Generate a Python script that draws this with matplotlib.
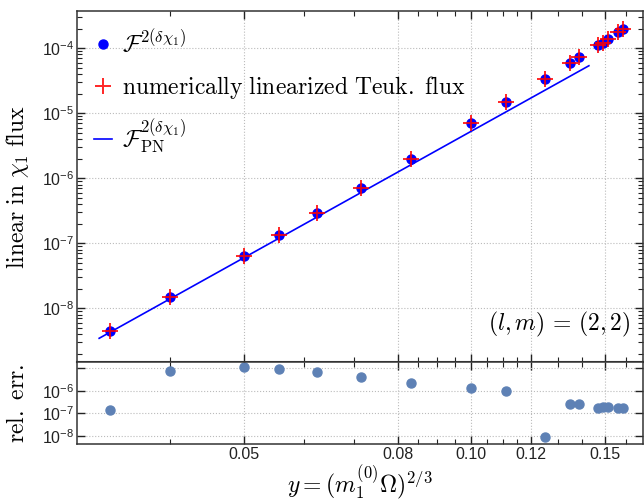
import matplotlib
matplotlib.use("Agg")
import matplotlib.pyplot as plt
from matplotlib.font_manager import FontProperties

plt.rcParams['font.family'] = ['Liberation Sans', 'DejaVu Sans']

# data
y_vals = [0.0333, 0.04, 0.05, 0.0556, 0.0625, 0.0714, 0.0833, 0.10, 0.111, 0.125,
          0.135, 0.1389, 0.147, 0.1493, 0.1515, 0.1563, 0.1587]
flux = [4.5e-9, 1.49e-8, 6.4e-8, 1.33e-7, 2.88e-7, 7.0e-7, 1.98e-6, 7.0e-6, 1.47e-5, 3.35e-5,
        6.0e-5, 7.3e-5, 1.11e-4, 1.22e-4, 1.39e-4, 1.76e-4, 1.96e-4]
teuk_flux = [4.5e-9, 1.49e-8, 6.4e-8, 1.33e-7, 2.88e-7, 7.0e-7, 1.98e-6, 7.0e-6, 1.47e-5, 3.35e-5,
             6.0e-5, 7.3e-5, 1.11e-4, 1.22e-4, 1.39e-4, 1.76e-4, 1.96e-4]
rel_err = [1.4e-7, 7.8e-6, 1.1e-5, 8.7e-6, 6.4e-6, 4.1e-6, 2.3e-6, 1.3e-6, 1.0e-6, 9.3e-9,
           2.6e-7, 2.6e-7, 1.65e-7, 1.9e-7, 1.9e-7, 1.75e-7, 1.75e-7]
pn_y = [0.0322, 0.143]
pn_flux = [3.47e-9, 5.36e-5]

xtick_vals = [0.05, 0.08, 0.10, 0.12, 0.15]
xtick_labels = ['0.05', '0.08', '0.10', '0.12', '0.15']
xminor_vals = [0.04, 0.06, 0.07, 0.085, 0.09, 0.095, 0.105, 0.11, 0.115, 0.13, 0.14, 0.16]

cm = FontProperties(math_fontfamily='cm', size=17)

fig = plt.figure(figsize=(6.44, 5.04), dpi=100)
gs = fig.add_gridspec(2, 1, height_ratios=[351, 82], hspace=0,
                      left=77/644, right=643/644, top=1-11/504, bottom=1-444/504)
ax = fig.add_subplot(gs[0])
ax2 = fig.add_subplot(gs[1], sharex=ax)

ax.plot(pn_y, pn_flux, color='blue', lw=1.2, label=r'$\mathcal{F}^{2(\delta\chi_1)}_{\rm PN}$', zorder=2)
ax.plot(y_vals, flux, 'o', color='blue', ms=6.5, label=r'$\mathcal{F}^{2(\delta\chi_1)}$', zorder=3)
ax.plot(y_vals, teuk_flux, '+', color='red', alpha=0.85, ms=12, mew=1.4,
        label=r'$\mathrm{numerically\ linearized\ Teuk.\ flux}$', zorder=4)

ax.set_xscale('log')
ax.set_yscale('log')
ax.set_xlim(0.0301, 0.1686)
ax.set_ylim(1.5e-9, 3.72e-4)
ax.set_yticks([1e-8, 1e-7, 1e-6, 1e-5, 1e-4],
              labels=[r'$\mathdefault{10^{-%d}}$' % k for k in [8, 7, 6, 5, 4]])

h, l = ax.get_legend_handles_labels()
order = [1, 2, 0]
ax.legend([h[i] for i in order], [l[i] for i in order], loc='upper left',
          bbox_to_anchor=(-0.012, 1.017), frameon=False, prop=cm,
          handlelength=0.75, handletextpad=0.45, labelspacing=0.72, borderaxespad=0.6)

ax.text(0.978, 0.108, r'$(l,m)\,=\,(2,2)$', transform=ax.transAxes, ha='right', va='center',
        fontproperties=cm)

ax2.plot(y_vals, rel_err, 'o', color='#5E81B5', ms=6.5)
ax2.set_yscale('log')
ax2.set_ylim(4.4e-9, 1.86e-5)
ax2.set_yticks([1e-8, 1e-7, 1e-6, 1e-5],
               labels=[r'$\mathdefault{10^{-8}}$', r'$\mathdefault{10^{-7}}$',
                       r'$\mathdefault{10^{-6}}$', ''])

for a in (ax, ax2):
    a.set_xticks(xtick_vals, labels=xtick_labels)
    a.set_xticks(xminor_vals, minor=True)
    a.xaxis.set_minor_formatter(plt.NullFormatter())
    a.tick_params(which='both', direction='in', top=True, right=True, labelsize=11.5,
                  colors='#222222', pad=2)
    a.tick_params(which='major', length=6, width=1)
    a.tick_params(which='minor', length=3.5, width=0.8)
    a.grid(True, which='major', ls=':', color='#bbbbbb', lw=0.8)
    for s in a.spines.values():
        s.set_color('#333333')
        s.set_linewidth(1.1)
ax.tick_params(labelbottom=False)
ax.spines['bottom'].set_linewidth(1.5)

fig.text(18/644, 1-187/504, r'$\mathrm{linear\ in\ }\chi_1\mathrm{\ flux}$', rotation=90,
         ha='center', va='center', fontproperties=cm)
fig.text(18/644, 1-403/504, r'$\mathrm{rel.\ err.}$', rotation=90,
         ha='center', va='center', fontproperties=cm)
fig.text(360/644, 2/504, r'$y=(m_1^{(0)}\Omega)^{2/3}$',
         ha='center', va='bottom', fontproperties=cm)

fig.savefig('out.png', dpi=100)
